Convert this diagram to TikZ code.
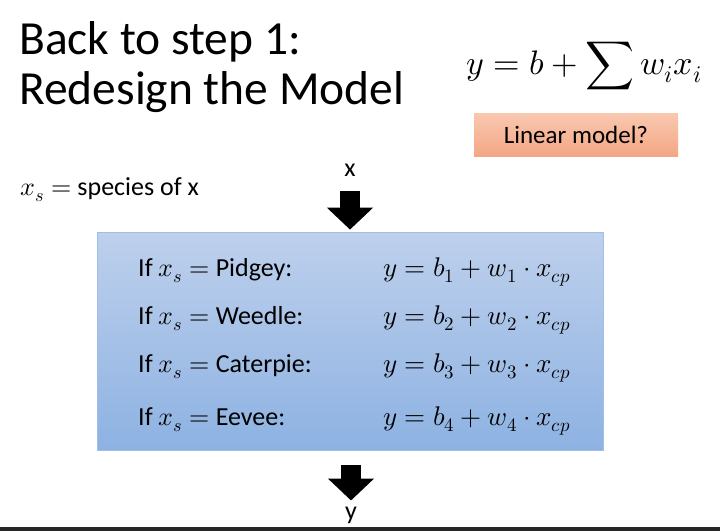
\documentclass[tikz,border=0pt]{standalone}
\usepackage{amsmath}
\usepackage{fontspec}
\usepackage{unicode-math}
\setmainfont{Carlito}
\setmathfont{Latin Modern Math}
\usetikzlibrary{arrows.meta,positioning,shapes.geometric}
\definecolor{boxtop}{RGB}{190,208,236}
\definecolor{boxbot}{RGB}{141,178,226}
\definecolor{boxline}{RGB}{160,190,232}
\definecolor{salmontop}{RGB}{249,200,176}
\definecolor{salmonbot}{RGB}{243,167,132}
\tikzset{
  fatarrow/.style={line width=20pt, -{Triangle[length=22pt,width=45pt]}},
  iftext/.style={anchor=base west, inner sep=0pt, font=\fontsize{26}{28}\selectfont},
  eqtext/.style={anchor=base west, inner sep=0pt, font=\fontsize{27}{29}\selectfont},
  lbl/.style={inner sep=0pt, font=\fontsize{26}{28}\selectfont},
  titletext/.style={anchor=base west, inner sep=0pt, font=\fontsize{47.5}{50}\selectfont}
}
\begin{document}
\begin{tikzpicture}[x=1pt,y=-1pt]
\useasboundingbox (0,0) rectangle (720,531);
% title and model
\node (title1) [titletext] at (19,54) {Back to step 1:};
\node (title2) [titletext] at (19,104) {Redesign the Model};
\node (formula) [anchor=base west, inner sep=0pt, font=\fontsize{34}{36}\selectfont] at (466,74)
  {$y = b + \displaystyle\sum w_i x_i$};
\node (linear) [rectangle, minimum width=204pt, minimum height=43pt,
  top color=salmontop, bottom color=salmonbot, font=\fontsize{25}{27}\selectfont]
  at (576,134.5) {Linear model?};
\node (species) [lbl, anchor=base west] at (20,195) {$x_s =$ species of x};
% input, box, output
\node (xin) [lbl] at (350,170) {x};
\node (model) [rectangle, minimum width=506pt, minimum height=218pt,
  top color=boxtop, bottom color=boxbot, draw=boxline, line width=0.8pt] at (350,341) {};
\node (yout) [lbl] at (351,515) {y};
\draw [fatarrow, shorten <=15pt, shorten >=2pt] (xin.south) -- (xin.south |- model.north);
\draw [fatarrow, shorten <=15pt, shorten >=6pt] (yout.north |- model.south) -- (yout.north);
% the four cases
\node (if1) [iftext] at (138,276) {If $x_s =$ Pidgey:};
\node (if2) [iftext] at (138,324) {If $x_s =$ Weedle:};
\node (if3) [iftext] at (138,372) {If $x_s =$ Caterpie:};
\node (if4) [iftext] at (138,425) {If $x_s =$ Eevee:};
\node (f1) [eqtext] at (383,276) {$y = b_1 + w_1 \cdot x_{cp}$};
\node (f2) [eqtext] at (383,324) {$y = b_2 + w_2 \cdot x_{cp}$};
\node (f3) [eqtext] at (383,372) {$y = b_3 + w_3 \cdot x_{cp}$};
\node (f4) [eqtext] at (383,425) {$y = b_4 + w_4 \cdot x_{cp}$};
% screen edge
\fill [black!85] (0,527) rectangle (720,531);
\end{tikzpicture}
\end{document}
